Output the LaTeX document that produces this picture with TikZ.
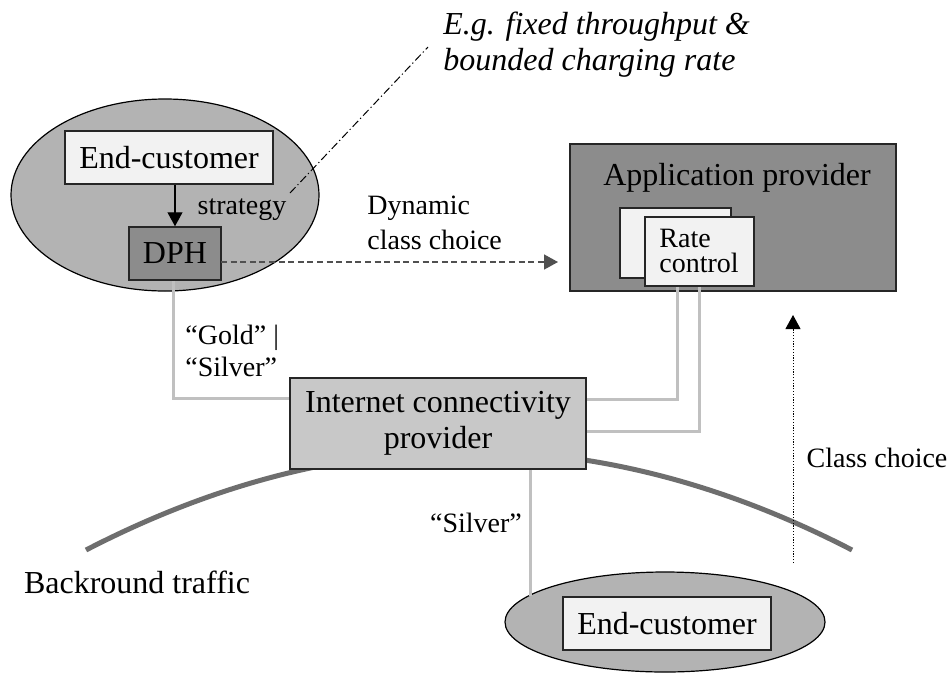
\documentclass[tikz,border=0pt]{standalone}
\usepackage{fontspec}
\setmainfont{Liberation Serif}
\usetikzlibrary{shapes.geometric,arrows.meta}
\definecolor{ellfill}{HTML}{B3B3B3}
\definecolor{darkfill}{HTML}{8C8C8C}
\definecolor{icpfill}{HTML}{C8C8C8}
\definecolor{boxfill}{HTML}{F2F2F2}
\definecolor{conn}{HTML}{C0C0C0}
\definecolor{traffic}{HTML}{6E6E6E}
\definecolor{dashcol}{HTML}{505050}
\tikzset{
  big/.style={font=\fontsize{16}{18}\selectfont},
  small/.style={font=\fontsize{14}{16}\selectfont},
  boxstyle/.style={draw=black!85, line width=0.75pt, inner sep=0pt},
  ellstyle/.style={ellipse, draw=black, line width=0.6pt, fill=ellfill, inner sep=0pt},
  connline/.style={draw=conn, line width=1.5pt},
  tip/.style={-{Triangle[width=7.5pt,length=7pt]}},
  txt/.style={inner sep=0pt}
}
\begin{document}
\begin{tikzpicture}[x=0.5pt,y=-0.5pt]
\useasboundingbox[fill=white] (0,0) rectangle (952,675);

% background traffic curve
\coordinate (tl) at (86,550);
\coordinate (tr) at (852,550);
\draw[traffic, line width=2.5pt] (tl) .. controls (341,418) and (597,418) .. (tr);

% top-left customer
\node[ellstyle, minimum width=154pt, minimum height=96pt] (ell1) at (165,195) {};
\node[boxstyle, fill=boxfill, minimum width=104pt, minimum height=26.5pt, big] (ec1) at (169,157.5) {End-customer};
\node[boxstyle, fill=darkfill, minimum width=46pt, minimum height=26.5pt, big] (dph) at (175,253.5) {DPH};
\draw[tip, line width=0.6pt] (dph.north |- ec1.south) -- (dph.north);
\node[txt, small] (strat) at (242,210) {strategy};

% note
\coordinate (n1) at (290,193);
\coordinate (n2) at (428,47);
\draw[line width=0.5pt, dash pattern=on 4pt off 1.5pt on 0.6pt off 1.5pt] (n1) -- (n2);
\node[txt, anchor=west, align=left, font=\fontsize{16}{18}\selectfont\itshape] (note) at (443,45) {E.g. fixed throughput \&\\bounded charging rate};

% application provider
\node[boxstyle, fill=darkfill, minimum width=163pt, minimum height=73.5pt] (app) at (733,217.5) {};
\node[txt, big] (apptxt) at (737,178) {Application provider};
\node[boxstyle, fill=boxfill, minimum width=55.5pt, minimum height=35pt] (rcb) at (675.5,243) {};
\node[boxstyle, fill=boxfill, minimum width=54.5pt, minimum height=34.5pt] (rc) at (699.5,251.5) {};
\node[txt, anchor=west, align=left, font=\fontsize{14}{12.5}\selectfont] (rctxt) at (659,250.5) {Rate\\control};

% internet connectivity provider
\coordinate (g1) at (173,398);
\coordinate (r1) at (677,399);
\coordinate (r2) at (699,431);
\node[boxstyle, fill=icpfill, minimum width=148pt, minimum height=45.5pt, align=center, font=\fontsize{16}{18}\selectfont] (icp) at (438,423.5) {Internet connectivity\\provider};
\draw[connline] (dph.south -| g1) -- (g1) -- (g1 -| icp.west);
\draw[connline] (rc.south -| r1) -- (r1) -- (r1 -| icp.east);
\draw[connline] (rc.south -| r2) -- (r2) -- (r2 -| icp.east);
\node[txt, anchor=west, align=left, font=\fontsize{14}{16}\selectfont] (gs) at (185,351) {``Gold'' |\\``Silver''};

% dynamic class choice
\coordinate (d1) at (221,262);
\coordinate (d2) at (558,262);
\draw[dashcol, tip, line width=0.75pt, dash pattern=on 3pt off 1.8pt] (d1) -- (d2);
\node[txt, anchor=west, align=left, font=\fontsize{14}{17.5}\selectfont] (dyn) at (367,222.5) {Dynamic\\class choice};

% bottom customer
\node[ellstyle, minimum width=160pt, minimum height=50pt] (ell2) at (665,622) {};
\node[boxstyle, fill=boxfill, minimum width=104pt, minimum height=26.5pt, big] (ec2) at (667,623.5) {End-customer};
\coordinate (s1) at (530,596);
\draw[connline] (icp.south -| s1) -- (s1);
\node[txt, small] (silver) at (476,523) {``Silver''};

% class choice
\coordinate (c1) at (793,563);
\coordinate (c2) at (793,315);
\draw[tip, line width=0.5pt, dash pattern=on 0.6pt off 0.8pt] (c1) -- (c2);
\node[txt, small] (cc) at (877,458) {Class choice};

\node[txt, big] (bt) at (137,582) {Backround traffic};
\end{tikzpicture}
\end{document}
